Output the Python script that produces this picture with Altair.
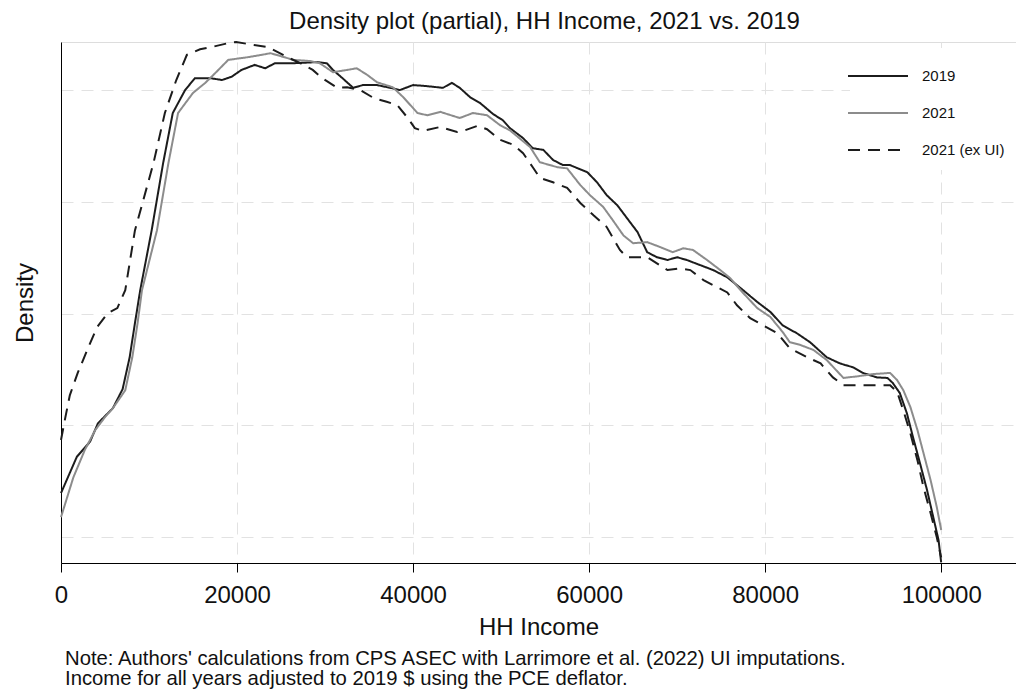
import altair as alt
import pandas as pd

series_names = ["2019", "2021", "2021 (ex UI)"]
series_colors = ["#1c1c1c", "#8c8c8c", "#1c1c1c"]
series_dashes = [[1, 0], [1, 0], [12, 8]]

# HH income (2019 $) and density (x 1e-6)
inc_2019 = [0, 1800, 3300, 4200, 5900, 7000, 7800, 8400, 9000, 10300,
            11600, 12700, 14100, 15200, 17100, 18300, 19400, 20500, 22000, 23200,
            24300, 26400, 29100, 30200, 30900, 32000, 33200, 34300, 35900, 37400,
            38500, 40000, 41600, 43400, 44400, 45300, 46500, 47600, 49100, 50200,
            51000, 52500, 53600, 54800, 55900, 57000, 57800, 59800, 60900, 62000,
            63200, 64300, 65500, 66600, 67700, 68900, 70000, 71100, 72600, 74100,
            75700, 77500, 79100, 80600, 82000, 83600, 85100, 87000, 88500, 90000,
            91100, 92700, 93900, 94500, 95300, 96100, 96800, 97600, 98400, 99100,
            99700, 100000]
den_2019 = [2.79, 3.44, 3.71, 4.04, 4.31, 4.65, 5.22, 5.83, 6.42, 7.49,
            8.69, 9.59, 10.00, 10.21, 10.21, 10.18, 10.24, 10.36, 10.45, 10.39,
            10.48, 10.48, 10.50, 10.48, 10.36, 10.21, 10.04, 10.09, 10.09, 10.04,
            10.00, 10.09, 10.07, 10.04, 10.13, 10.04, 9.87, 9.77, 9.57, 9.46,
            9.32, 9.14, 8.96, 8.93, 8.75, 8.66, 8.66, 8.53, 8.35, 8.12,
            7.94, 7.71, 7.46, 7.10, 7.01, 6.96, 7.01, 6.96, 6.87, 6.78,
            6.65, 6.42, 6.21, 6.03, 5.79, 5.65, 5.49, 5.22, 5.11, 5.04,
            4.94, 4.86, 4.85, 4.76, 4.58, 4.22, 3.79, 3.32, 2.84, 2.36,
            1.95, 1.55]

inc_2021 = [0, 1400, 2700, 3900, 5000, 5900, 7300, 8100, 8700, 9200,
            10900, 12200, 13300, 15000, 16400, 17500, 19000, 21300, 22800, 23800,
            24900, 26400, 28300, 29400, 30900, 32500, 33600, 34800, 35900, 37700,
            38900, 40500, 41600, 43100, 45300, 46800, 48400, 49900, 51000, 53300,
            54400, 56400, 57500, 59000, 60100, 61600, 62700, 63900, 65000, 66600,
            68100, 69500, 70700, 71800, 73400, 74900, 76000, 77500, 79100, 80600,
            82000, 82800, 84000, 85500, 87000, 88900, 90500, 92300, 94200, 95000,
            95700, 96500, 97300, 98000, 98800, 99500, 100000]
den_2021 = [2.36, 3.07, 3.56, 3.92, 4.15, 4.31, 4.63, 5.22, 5.83, 6.42,
            7.49, 8.69, 9.59, 9.95, 10.13, 10.30, 10.54, 10.59, 10.63, 10.66,
            10.61, 10.54, 10.52, 10.48, 10.32, 10.36, 10.39, 10.27, 10.14, 10.05,
            9.87, 9.59, 9.55, 9.61, 9.50, 9.59, 9.55, 9.37, 9.28, 8.98,
            8.71, 8.62, 8.60, 8.30, 8.12, 7.91, 7.67, 7.40, 7.26, 7.28,
            7.19, 7.10, 7.17, 7.14, 6.96, 6.78, 6.64, 6.37, 6.10, 5.94,
            5.67, 5.49, 5.44, 5.35, 5.17, 4.85, 4.88, 4.92, 4.94, 4.81,
            4.63, 4.33, 3.92, 3.50, 3.02, 2.54, 2.13]

inc_exui = [0, 500, 1000, 1900, 3300, 4100, 5300, 6400, 7300, 8400,
            10500, 11800, 13100, 14300, 15800, 17100, 19000, 19900, 21800, 23500,
            25700, 27200, 28600, 29700, 31400, 32500, 34000, 35500, 37000, 38200,
            39300, 40200, 41100, 43100, 45000, 45700, 47300, 48400, 49900, 51400,
            52500, 53600, 54400, 55900, 57500, 59000, 60500, 62000, 63500, 64300,
            66600, 68900, 70300, 71500, 73000, 74100, 75700, 76800, 78300, 79800,
            81400, 82800, 84800, 86300, 87700, 88900, 94200, 95000, 95700, 96500,
            97300, 98000, 98800, 99500, 100000]
den_exui = [3.74, 4.15, 4.54, 4.94, 5.47, 5.76, 6.01, 6.10, 6.42, 7.49,
            8.69, 9.59, 10.18, 10.63, 10.73, 10.77, 10.84, 10.86, 10.81, 10.77,
            10.59, 10.48, 10.36, 10.21, 10.04, 10.05, 10.00, 9.86, 9.79, 9.73,
            9.52, 9.32, 9.27, 9.34, 9.25, 9.27, 9.36, 9.30, 9.11, 9.02,
            8.87, 8.62, 8.43, 8.35, 8.25, 7.98, 7.76, 7.55, 7.14, 7.01,
            7.01, 6.78, 6.81, 6.78, 6.60, 6.51, 6.38, 6.15, 5.92, 5.79,
            5.65, 5.38, 5.22, 5.11, 4.86, 4.72, 4.72, 4.60, 4.27, 3.86,
            3.38, 2.89, 2.43, 2.00, 1.64]

x_ticks = [0, 20000, 40000, 60000, 80000, 100000]
y_grid = [2, 4, 6, 8, 10]

title_text = "Density plot (partial), HH Income, 2021 vs. 2019"
note_text = ("Note: Authors' calculations from CPS ASEC with Larrimore et al. (2022) UI imputations.\n"
             "Income for all years adjusted to 2019 $ using the PCE deflator.")

FONT = "Liberation Sans"

frames = []
for name, xs, ys in [(series_names[0], inc_2019, den_2019),
                     (series_names[1], inc_2021, den_2021),
                     (series_names[2], inc_exui, den_exui)]:
    frames.append(pd.DataFrame({"income": xs, "density": ys, "series": name, "order": range(len(xs))}))
df = pd.concat(frames, ignore_index=True)

legend = alt.Legend(
    title=None, orient="none", legendX=789, legendY=6,
    symbolType="M-2,0H2", symbolSize=900, symbolStrokeWidth=2,
    labelFontSize=15, labelFont=FONT, labelColor="#111111", labelOffset=28,
    fillColor="white", padding=12, rowPadding=13,
)

lines = alt.Chart(df).mark_line(strokeWidth=2).encode(
    x=alt.X("income:Q", title="HH Income",
            scale=alt.Scale(domain=[0, 108500], nice=False, zero=False),
            axis=alt.Axis(values=x_ticks, format="d", labelFontSize=24, labelFont=FONT,
                          labelColor="#111111", labelPadding=11, tickSize=9, tickColor="black",
                          domainColor="black", titleFontSize=24, titleFont=FONT,
                          titleFontWeight="normal", titleColor="#111111", titlePadding=8,
                          grid=True, gridColor="#e2e2e2", gridDash=[12, 8], labelFlush=False)),
    y=alt.Y("density:Q", title="Density",
            scale=alt.Scale(domain=[1.54, 10.86], nice=False, zero=False),
            axis=alt.Axis(values=y_grid, labels=False, ticks=False, domainColor="black",
                          titleFontSize=24, titleFont=FONT, titleFontWeight="normal",
                          titleColor="#111111", titlePadding=24,
                          grid=True, gridColor="#e2e2e2", gridDash=[12, 8])),
    color=alt.Color("series:N", scale=alt.Scale(domain=series_names, range=series_colors), legend=legend),
    strokeDash=alt.StrokeDash("series:N", scale=alt.Scale(domain=series_names, range=series_dashes), legend=legend),
    order="order:Q",
)

note = alt.Chart(pd.DataFrame({"note": [note_text]})).mark_text(
    align="left", baseline="alphabetic", fontSize=20.3, font=FONT, lineBreak="\n",
    lineHeight=20.5, color="#111111",
).encode(x=alt.value(4), y=alt.value(622.5), text="note:N")

chart = alt.layer(lines, note).properties(
    width=955, height=521,
    autosize=alt.AutoSizeParams(type="none"),
    padding={"left": 53, "top": 34, "right": 0, "bottom": 126},
    title=alt.Title(title_text, fontSize=24, fontWeight="normal", font=FONT,
                    anchor="middle", offset=4, dx=6, color="#111111"),
).configure_view(stroke=None).configure(background="white")

chart.save("out.html", embed_options={"renderer": "svg", "actions": False})
